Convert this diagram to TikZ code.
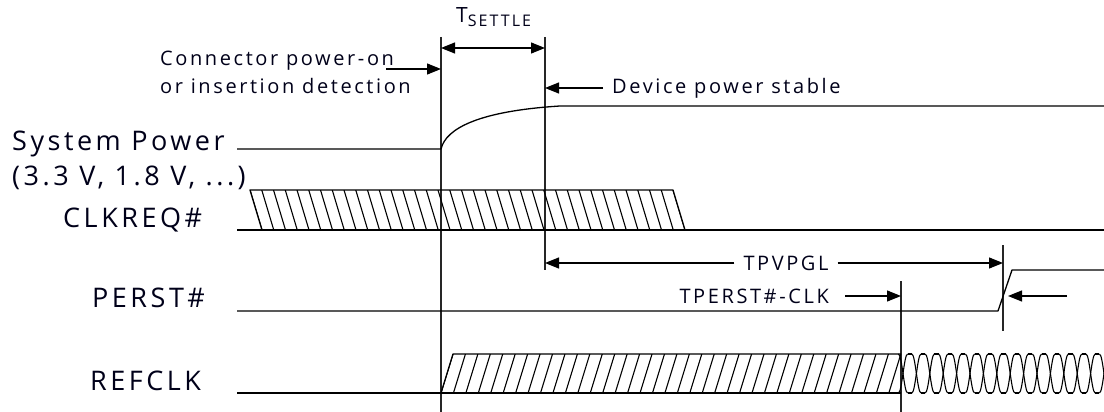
\documentclass[tikz,border=0pt]{standalone}
\usepackage{fontspec}
\setmainfont{Open Sans}
\newfontfamily\lblfont{Open Sans}[LetterSpace=13]
\newfontfamily\sigfont{Open Sans}[LetterSpace=13]
\usetikzlibrary{arrows.meta}
\begin{document}
\begin{tikzpicture}[x=1pt,y=-1pt,
  wire/.style={line width=1.3pt, line join=round},
  marker/.style={line width=1.6pt, draw=black!85},
  dim/.style={line width=1.2pt, -{Triangle[length=14pt,width=11pt]}},
  dimboth/.style={line width=1.2pt, {Triangle[length=14pt,width=11pt]}-{Triangle[length=14pt,width=11pt]}},
  lbl/.style={inner sep=0pt, text=black!90!blue, font=\lblfont\fontsize{20}{26}\selectfont},
  sig/.style={inner sep=0pt, text=black!90!blue, font=\sigfont\fontsize{27}{34}\selectfont},
  hatch/.style={line width=1.1pt}]
\useasboundingbox (0,0) rectangle (1104,412);

% marker lines
\coordinate (v1t) at (441,37); \coordinate (v1b) at (441,412);
\coordinate (v2t) at (545,37); \coordinate (v2b) at (545,270);
\coordinate (v3t) at (1003,245); \coordinate (v3b) at (1003,331);
\coordinate (v4t) at (901,281); \coordinate (v4b) at (901,412);
\draw[marker] (v1t) -- (v1b);
\draw[marker] (v2t) -- (v2b);
\draw[marker] (v3t) -- (v3b);
\draw[marker] (v4t) -- (v4b);

% T_SETTLE
\node[inner sep=0pt, anchor=base west, text=black!90!blue, font=\lblfont\fontsize{21}{24}\selectfont] (tsettle) at (456,23)
  {T\raisebox{-4pt}{\fontsize{16}{18}\selectfont SETTLE}};
\coordinate (ts1) at (441,48); \coordinate (ts2) at (545,48);
\draw[dimboth] (ts1) -- (ts2);

% connector power-on
\node[lbl, anchor=base west] (conn1) at (160,66) {Connector power-on};
\node[lbl, anchor=base west] (conn2) at (160,94) {or insertion detection};
\coordinate (ca) at (386,69); \coordinate (cb) at (441,69);
\draw[dim] (ca) -- (cb);

% device power stable
\node[lbl, anchor=base west] (dps) at (612,94) {Device power stable};
\coordinate (da) at (603,88); \coordinate (db) at (545,88);
\draw[dim] (da) -- (db);

% signal names
\node[sig, anchor=base west] (sp1) at (12,150) {System Power};
\node[sig, anchor=base west] (sp2) at (12,185) {(3.3 V, 1.8 V, ...)};
\node[sig, anchor=base west] (clkreq) at (63,227) {CLKREQ\#};
\node[sig, anchor=base west] (perst) at (92,307) {PERST\#};
\node[sig, anchor=base west] (refclk) at (90,390) {REFCLK};

% System power waveform
\draw[wire] (237,149) -- (441,149) .. controls (446,128) and (480,111) .. (560,106) -- (1104,106);

% CLKREQ# waveform
\draw[wire] (237,230) -- (1104,230);
\begin{scope}
  \clip (262,230) -- (250,190) -- (673,190) -- (685,230) -- cycle;
  \foreach \i in {0,...,36} {
    \draw[hatch] ({250+\i*11.75},190) -- ({262+\i*11.75},230);
  }
\end{scope}
\draw[wire] (262,230) -- (250,190) -- (673,190) -- (685,230);

% TPVPGL
\node[lbl, inner xsep=9pt] (tpv) at (786,263) {TPVPGL};
\coordinate (tpa) at (545,263); \coordinate (tpb) at (1003,263);
\draw[dim] (tpv.west) -- (tpa);
\draw[dim] (tpv.east) -- (tpb);

% TPERST#-CLK
\node[lbl, anchor=base east] (tpc) at (829,303) {TPERST\#-CLK};
\coordinate (tca) at (845,296); \coordinate (tcb) at (901,296);
\draw[dim] (tca) -- (tcb);
\coordinate (pa) at (1067,296); \coordinate (pb) at (1008,296);
\draw[dim] (pa) -- (pb);

% PERST# waveform
\draw[wire] (237,311) -- (998,311) -- (1012,270) -- (1104,270);

% REFCLK waveform
\draw[wire] (237,393) -- (901,393);
\begin{scope}
  \clip (441,393) -- (453,354) -- (901,354) -- (901,393) -- cycle;
  \foreach \i in {0,...,37} {
    \draw[hatch] ({441+\i*12.44},393) -- ({453+\i*12.44},354);
  }
\end{scope}
\draw[wire] (441,393) -- (453,354) -- (901,354);
% clock
\def\pp{13.4}
\def\ww{4.6}
\foreach \i in {0,...,15} {
  \pgfmathsetmacro{\xc}{903+\i*\pp}
  \draw[hatch] ({\xc-\ww},354) .. controls ({\xc-1},354) and ({\xc+1},393) .. ({\xc+\ww},393);
  \draw[hatch] ({\xc-\ww},393) .. controls ({\xc-1},393) and ({\xc+1},354) .. ({\xc+\ww},354);
}
\foreach \i in {0,...,14} {
  \pgfmathsetmacro{\xa}{903+\i*\pp+\ww}
  \pgfmathsetmacro{\xb}{903+(\i+1)*\pp-\ww}
  \draw[hatch] (\xa,354) -- (\xb,354);
  \draw[hatch] (\xa,393) -- (\xb,393);
}
\end{tikzpicture}
\end{document}
